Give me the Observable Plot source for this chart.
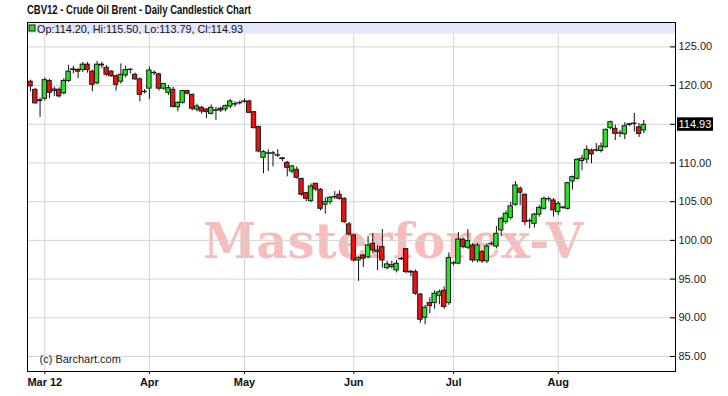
<!DOCTYPE html>
<html>
<head>
<meta charset="utf-8">
<script src="https://cdn.jsdelivr.net/npm/d3@7"></script>
<script src="https://cdn.jsdelivr.net/npm/@observablehq/plot@0.6"></script>
<style>
html, body { margin: 0; padding: 0; background: #fff; }
svg { display: block; }
</style>
</head>
<body>
<div id="chart"></div>
<script>
// ---- text ----
const title = "CBV12 - Crude Oil Brent - Daily Candlestick Chart";
const legendText = "Op:114.20, Hi:115.50, Lo:113.79, Cl:114.93";
const watermark = "Masterforex-V";
const credit = "(c) Barchart.com";

// ---- data: trading-day index of first candle (0 = first session of March 2012) ----
const firstIndex = -3;
const open = [
  120.5,119.45,118.0,118.3,120.6,119.3,119.45,119.0,120.6,122.0,
  122.0,122.0,122.7,121.8,120.3,122.6,122.3,121.8,121.2,120.5,
  121.3,122.0,121.4,120.8,119.15,119.6,121.6,121.45,119.6,119.07,
  119.45,117.2,117.77,119.28,118.8,116.9,117.13,116.91,116.35,116.8,
  117.0,116.91,117.3,117.6,117.7,117.9,117.95,116.57,114.67,110.67,
  111.2,111.2,110.95,110.6,110.02,108.9,109.12,107.95,106.1,105.07,
  107.31,106.54,104.6,104.94,105.55,105.9,105.37,102.06,100.64,97.4,
  98.05,97.8,99.56,98.5,99.13,96.4,96.55,96.12,97.6,98.87,
  95.95,95.9,93.0,90.0,91.9,91.9,92.85,93.5,91.9,97.0,
  97.0,100.1,99.05,99.34,97.41,98.48,97.3,99.5,99.2,101.28,
  102.36,102.9,104.6,106.67,105.9,102.5,102.14,103.33,104.08,105.3,
  105.16,103.65,104.2,104.08,107.6,107.96,110.24,110.45,111.61,111.6,
  111.55,112.04,114.5,114.41,113.8,113.7,114.9,115.1,114.6,114.20
];
const high = [
  120.7,119.6,118.4,121.0,120.8,119.8,119.7,120.9,122.6,122.5,
  122.2,123.0,123.0,122.0,123.1,123.0,122.6,121.9,121.4,122.8,
  122.5,122.2,121.6,121.0,119.5,122.4,121.9,121.6,120.3,120.0,
  119.8,117.9,119.4,119.4,118.9,117.6,117.3,117.0,117.5,117.2,
  117.2,117.5,118.2,117.9,118.0,118.3,118.1,116.6,114.7,111.6,
  111.7,111.5,111.7,110.7,110.2,109.7,109.5,108.0,106.2,107.3,
  107.4,106.7,105.5,105.7,106.3,106.4,105.5,102.3,100.8,97.9,
  98.2,100.5,100.9,99.3,101.4,97.3,97.3,97.4,97.8,98.9,
  96.1,96.2,93.1,91.6,92.6,93.5,93.6,94.0,98.4,97.3,
  101.0,100.3,101.4,99.6,99.6,98.7,99.5,99.8,101.8,103.0,
  103.8,104.9,107.6,106.9,106.0,102.8,103.5,104.5,105.6,105.6,
  105.4,105.0,104.4,107.5,108.3,110.6,111.0,112.2,111.8,112.5,
  112.6,114.4,115.4,114.9,114.2,115.2,115.1,116.4,115.1,115.50
];
const low = [
  119.2,117.6,115.9,118.0,118.3,118.6,118.4,118.8,120.4,121.5,
  120.9,121.7,121.6,119.2,120.1,122.2,121.2,121.1,119.3,120.2,
  121.0,121.5,120.7,117.9,118.9,118.2,121.3,119.3,119.4,118.7,
  117.1,116.6,117.6,118.8,116.7,116.6,116.3,115.7,116.2,115.5,
  116.5,116.6,117.0,117.2,117.5,117.7,116.4,114.4,111.3,108.6,
  108.9,109.5,110.7,110.2,108.2,108.6,107.9,105.7,105.0,104.9,
  106.3,103.8,103.4,104.6,105.3,105.2,102.2,100.6,97.2,94.7,
  96.5,97.6,98.3,96.1,96.4,96.2,96.3,95.8,97.4,95.7,
  95.3,92.9,89.3,89.1,90.5,91.1,91.7,91.1,91.6,96.7,
  96.9,98.9,98.8,97.1,97.1,97.0,97.0,99.3,98.9,100.5,
  102.1,102.6,104.4,104.5,101.9,101.5,101.6,103.0,103.9,105.0,
  103.0,103.2,104.0,103.9,106.5,107.8,109.0,109.9,109.9,111.4,
  111.3,111.9,114.3,112.9,113.3,113.0,114.7,114.0,113.3,113.79
];
const close = [
  119.9,117.7,118.1,120.7,119.05,119.5,118.6,120.6,121.8,122.1,
  121.8,122.7,122.0,120.1,122.7,122.7,121.4,121.2,120.1,121.4,
  122.0,122.05,120.8,118.8,119.2,121.95,121.65,119.6,120.2,119.67,
  117.25,117.77,119.28,118.94,117.0,117.3,116.65,116.57,117.13,116.75,
  116.78,117.34,117.95,117.55,117.75,117.95,116.48,114.5,111.49,111.4,
  111.25,111.25,111.0,110.5,109.38,109.55,108.09,105.9,105.37,106.97,
  106.58,104.08,104.94,105.5,105.6,105.37,102.36,100.76,97.41,97.7,
  97.62,99.35,98.7,98.7,97.41,96.9,96.8,96.98,97.55,95.9,
  95.85,93.11,89.75,91.3,91.5,93.11,93.3,91.4,97.7,97.05,
  100.1,99.13,99.9,97.41,99.34,97.3,99.2,99.56,100.85,102.79,
  103.44,104.4,107.1,106.15,102.36,102.45,103.33,104.2,105.37,105.35,
  103.87,104.72,104.25,107.39,108.17,110.41,110.54,111.7,111.1,111.65,
  112.13,114.28,115.27,113.77,113.85,114.75,115.0,115.05,113.75,114.93
];

// ---- axes ----
const monthTicks = [0, 22, 42, 65, 86, 108];
const monthLabels = ["Mar 12", "Apr", "May", "Jun", "Jul", "Aug"];
const priceTicks = [85, 90, 95, 100, 105, 110, 115, 120, 125];
const lastPrice = close[close.length - 1];

const xDomain = [-3.64, 132.67];
const yDomain = [83.06, 128.15];

const UP = "#22e622", DOWN = "#ec1010";

const candles = open.map((o, k) => ({
  i: k + firstIndex, o, h: high[k], l: low[k], c: close[k]
}));
const labelOf = new Map(monthTicks.map((t, k) => [t, monthLabels[k]]));

const W = 728, H = 396;
const mL = 27, mR = 53, mT = 22, mB = 25;
const halfBody = 0.46;
const tickLen = 5 * (xDomain[1] - xDomain[0]) / (W - mL - mR);
const SANS = "'Liberation Sans', Arial, sans-serif";

// background: watermark
function watermarkMark(index, scales, values, dim) {
  const g = d3.create("svg:g");
  g.append("text")
    .attr("x", dim.marginLeft + 176)
    .attr("y", dim.marginTop + 236)
    .attr("text-anchor", "start")
    .attr("textLength", 380)
    .attr("lengthAdjust", "spacingAndGlyphs")
    .attr("font-family", "'DejaVu Serif', 'Liberation Serif', serif")
    .attr("font-weight", "bold")
    .attr("font-size", 49)
    .attr("fill", "#f9bcbc")
    .text(watermark);
  return g.node();
}

// top legend band, title
function headerMark(index, scales, values, dim) {
  const g = d3.create("svg:g").attr("text-anchor", "start");
  const x0 = dim.marginLeft, x1 = dim.width - dim.marginRight;
  g.append("rect").attr("x", x0).attr("y", dim.marginTop)
    .attr("width", x1 - x0).attr("height", 11.5).attr("fill", "#e4e4fa");
  g.append("rect").attr("x", x0 + 2).attr("y", dim.marginTop + 3)
    .attr("width", 6).attr("height", 6)
    .attr("fill", UP).attr("stroke", "#1a1a1a").attr("stroke-width", 1);
  g.append("text").attr("x", x0 + 10).attr("y", dim.marginTop + 10.5)
    .attr("text-anchor", "start")
    .attr("font-family", SANS)
    .attr("font-size", 11).attr("fill", "#111")
    .attr("textLength", 206).attr("lengthAdjust", "spacingAndGlyphs")
    .text(legendText);
  g.append("text").attr("x", x0).attr("y", 14)
    .attr("text-anchor", "start")
    .attr("font-family", SANS)
    .attr("font-weight", "bold")
    .attr("font-size", 12.5).attr("fill", "#111")
    .attr("textLength", 224).attr("lengthAdjust", "spacingAndGlyphs")
    .text(title);
  return g.node();
}

// last-price box on right axis
function priceBoxMark(index, scales, values, dim) {
  const g = d3.create("svg:g");
  const y = scales.y(lastPrice);
  const x = dim.width - dim.marginRight + 2;
  g.append("rect").attr("x", x).attr("y", y - 7)
    .attr("width", 36).attr("height", 13.5).attr("fill", "#000");
  g.append("text").attr("x", x + 1.5).attr("y", y + 4)
    .attr("text-anchor", "start")
    .attr("font-family", SANS)
    .attr("font-size", 11).attr("fill", "#fff")
    .text(lastPrice.toFixed(2));
  return g.node();
}

const chart = Plot.plot({
  width: W, height: H,
  marginLeft: mL, marginRight: mR, marginTop: mT, marginBottom: mB,
  x: { type: "linear", domain: xDomain, axis: null, label: null },
  y: { type: "linear", domain: yDomain, axis: null, label: null },
  style: { fontFamily: SANS, fontSize: "11px", background: "#fff", overflow: "visible" },
  marks: [
    watermarkMark,
    Plot.ruleY(priceTicks, { stroke: "#d4d4d4", strokeWidth: 1 }),
    Plot.ruleX(monthTicks, { stroke: "#d4d4d4", strokeWidth: 1 }),
    headerMark,
    Plot.text([credit], {
      frameAnchor: "bottom-left", dx: 12, dy: -12.5,
      textAnchor: "start", lineAnchor: "middle",
      fontSize: 11, fill: "#222"
    }),
    // wicks
    Plot.ruleX(candles, { x: "i", y1: "l", y2: "h", stroke: "#111", strokeWidth: 1 }),
    // bodies
    Plot.rect(candles, {
      x1: d => d.i - halfBody, x2: d => d.i + halfBody,
      y1: "o", y2: "c",
      fill: d => (d.c >= d.o ? UP : DOWN),
      stroke: "#1a1a1a", strokeWidth: 1
    }),
    Plot.frame({ stroke: "#000", strokeWidth: 1 }),
    // inner ticks on the right edge
    Plot.ruleY(priceTicks, { x1: xDomain[1] - tickLen, x2: xDomain[1], stroke: "#000" }),
    Plot.axisY(priceTicks.filter(v => v !== 115), {
      anchor: "right", tickSize: 0, tickPadding: 3, label: null,
      tickFormat: d => d.toFixed(2), fontSize: 11, fill: "#222"
    }),
    priceBoxMark,
    Plot.axisX(monthTicks, {
      anchor: "bottom", tickSize: 3, tickPadding: 4, label: null,
      tickFormat: d => labelOf.get(d),
      fontWeight: "bold", fontSize: 11, fill: "#111"
    })
  ]
});

document.getElementById("chart").appendChild(chart);
</script>
</body>
</html>
